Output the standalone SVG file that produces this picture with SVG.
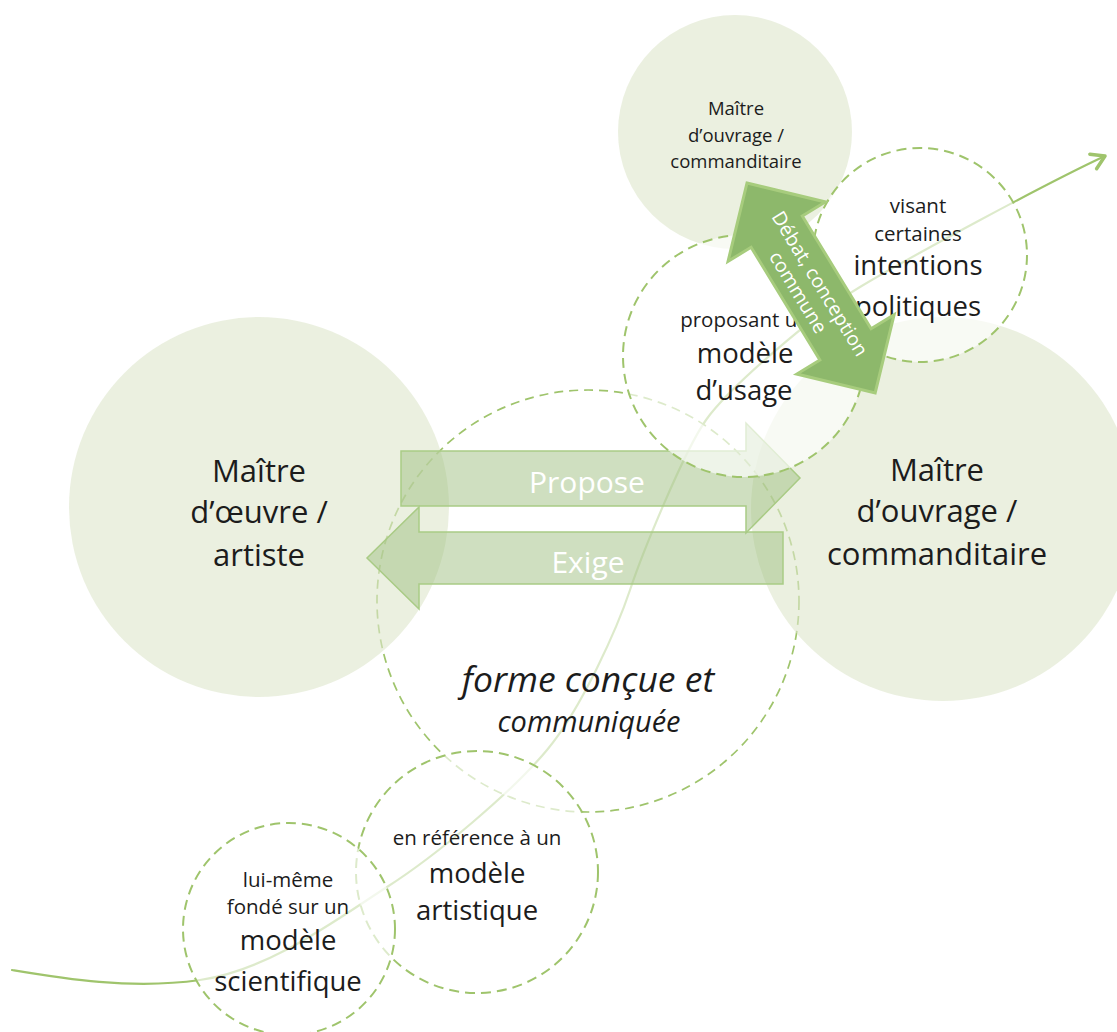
<svg xmlns="http://www.w3.org/2000/svg" width="1117" height="1032" viewBox="0 0 1117 1032">
<defs>
<style>
.solid{fill:#dee6cb;fill-opacity:0.6;stroke:none}
.dash{fill:#ffffff;fill-opacity:0.65;stroke:#9fc46c;stroke-width:2;stroke-dasharray:10 6}
.dashthin{stroke-width:1.7;stroke-dasharray:9 6}
.t{font-family:"Open Sans","Noto Sans","Liberation Sans",sans-serif;fill:#1c1c1c;text-anchor:middle}
.w{font-family:"Open Sans","Noto Sans","Liberation Sans",sans-serif;fill:#ffffff;text-anchor:middle}
.s20{font-size:20.5px}
.s27{font-size:27.5px}
.s31{font-size:31px}
.blk{fill:#9fbf81;fill-opacity:0.5;stroke:#a9cb85;stroke-width:1.5;stroke-linejoin:miter}
.curve{fill:none;stroke:#9fc46c;stroke-width:2.2;stroke-linecap:round}
</style>
<marker id="chev" viewBox="0 0 20 20" refX="17" refY="10" markerUnits="userSpaceOnUse" markerWidth="20" markerHeight="20" orient="auto">
<path d="M4,2 L17,10 L4,18" fill="none" stroke="#9fc46c" stroke-width="3.5" stroke-linecap="round" stroke-linejoin="round"/>
</marker>
</defs>
<rect width="1117" height="1032" fill="#ffffff"/>

<g id="connectors">
<path class="curve" marker-end="url(#chev)" d="M12,970 C60,978 130,990 200,980 S337,919 387,887 S512,792 547,750 S618,626 630,590 S684,451 706,420 S810,317 860,287 S1045,184 1105,156"/>
</g>

<g id="node-forme">
<circle class="dash dashthin" cx="588" cy="601" r="211"/>
<text class="t" x="588" y="692" font-size="35.5" font-style="italic">forme conçue et</text>
<text class="t" x="589" y="732" font-size="29" font-style="italic">communiquée</text>
</g>

<g id="node-artiste">
<circle class="solid" cx="259" cy="507" r="190"/>
<text class="t s31" x="259" y="482">Maître</text>
<text class="t s31" x="259" y="523">d’œuvre /</text>
<text class="t s31" x="259" y="566">artiste</text>
</g>

<g id="node-commanditaire">
<circle class="solid" cx="943" cy="509" r="192"/>
<text class="t s31" x="937" y="481">Maître</text>
<text class="t s31" x="937" y="522">d’ouvrage /</text>
<text class="t s31" x="937" y="565">commanditaire</text>
</g>

<g id="node-reference">
<circle class="dash" cx="477" cy="872" r="121"/>
<text class="t s20" x="477" y="845">en référence à un</text>
<text class="t s27" x="477" y="883">modèle</text>
<text class="t s27" x="477" y="920">artistique</text>
</g>

<g id="node-scientifique">
<circle class="dash" cx="289" cy="929" r="106"/>
<text class="t s20" x="288" y="887">lui-même</text>
<text class="t s20" x="288" y="914">fondé sur un</text>
<text class="t s27" x="288" y="950">modèle</text>
<text class="t s27" x="288" y="991">scientifique</text>
</g>

<g id="connectors-exchange">
<g id="arrow-propose">
<polygon class="blk" points="401,451 746,451 746,423 800,478 746,533 746,506 401,506"/>
<text class="w" x="587" y="493" font-size="30">Propose</text>
</g>
<g id="arrow-exige">
<polygon class="blk" points="783,532 419,532 419,507 367,558 419,609 419,584 783,584"/>
<text class="w" x="588" y="573" font-size="30">Exige</text>
</g>
</g>

<g id="node-top">
<circle class="solid" cx="735" cy="132" r="117"/>
<text class="t" x="736" y="115" font-size="18.5">Maître</text>
<text class="t" x="736" y="142" font-size="18.5">d’ouvrage /</text>
<text class="t" x="736" y="168" font-size="18.5">commanditaire</text>
</g>

<g id="node-usage">
<circle class="dash" cx="744" cy="356" r="121"/>
<text class="t s20" x="745" y="327">proposant un</text>
<text class="t s27" x="745" y="363">modèle</text>
<text class="t s27" x="744" y="400">d’usage</text>
</g>

<g id="node-intentions">
<circle class="dash" cx="920" cy="255" r="107"/>
<text class="t s20" x="918" y="213">visant</text>
<text class="t s20" x="918" y="241">certaines</text>
<text class="t s27" x="918" y="275">intentions</text>
<text class="t s27" x="918" y="316">politiques</text>
</g>

<g id="connector-debat" transform="translate(747,183) rotate(58.6)">
<polygon points="0,0 57,-57 57,-30 189,-30 189,-57 246,0 189,57 189,30 57,30 57,57" fill="#8db86b" stroke="#a7cc7d" stroke-width="3" stroke-linejoin="miter"/>
<text class="w" x="124" y="-3" font-size="19.5">Débat, conception</text>
<text class="w" x="120" y="20" font-size="19.5">commune</text>
</g>
</svg>
